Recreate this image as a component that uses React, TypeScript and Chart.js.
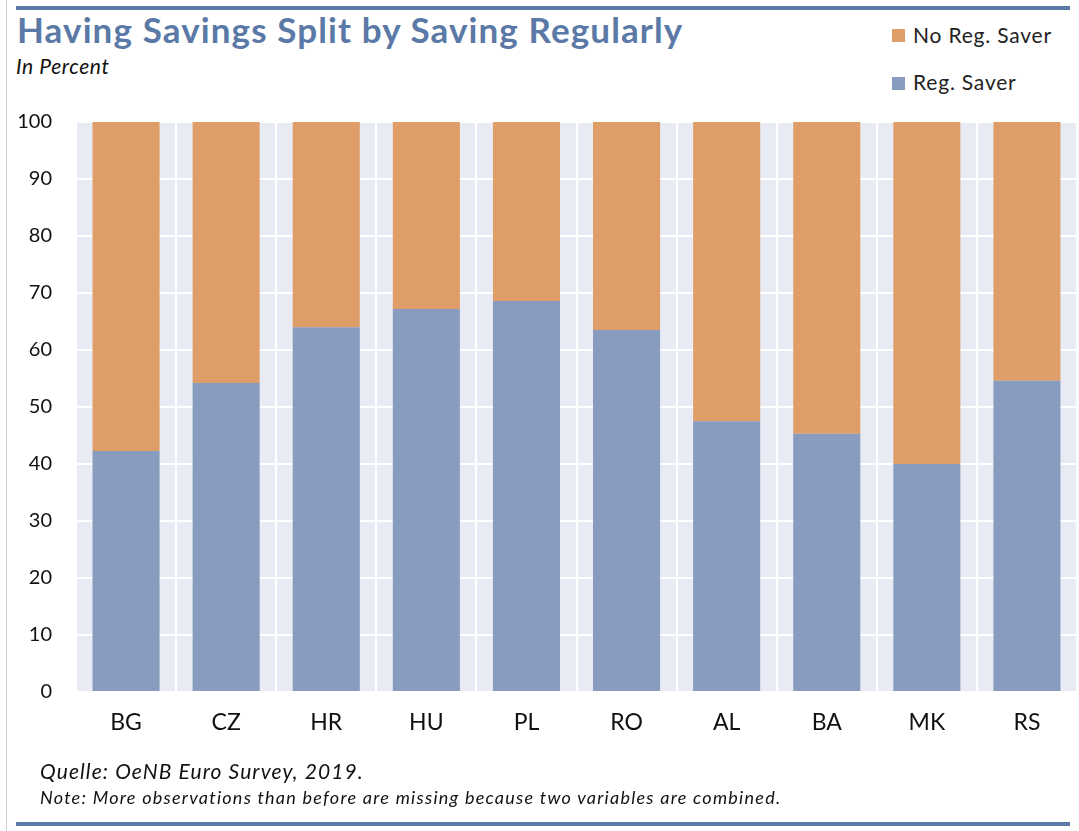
import React, { useEffect, useRef } from "react";
import { Chart, registerables } from "chart.js";

Chart.register(...registerables);

const categories = ["BG", "CZ", "HR", "HU", "PL", "RO", "AL", "BA", "MK", "RS"];
const regSaver = [42.3, 54.2, 64.0, 67.2, 68.6, 63.5, 47.5, 45.3, 40.0, 54.6];
const noRegSaver = [57.7, 45.8, 36.0, 32.8, 31.4, 36.5, 52.5, 54.7, 60.0, 45.4];
const seriesNames = ["Reg. Saver", "No Reg. Saver"];
const yMin = 0;
const yMax = 100;
const yStep = 10;

const ORANGE = "#df9e67";
const BLUE = "#879cbf";
const TITLE_BLUE = "#5b79a6";
const PLOT_BG = "#e8ebf3";
const FONT = "Lato, 'Open Sans', sans-serif";

const plotBg = {
  id: "plotBg",
  beforeDraw(chart: any) {
    const { ctx, chartArea } = chart;
    if (!chartArea) return;
    ctx.save();
    ctx.fillStyle = PLOT_BG;
    ctx.fillRect(chartArea.left, chartArea.top, chartArea.width, chartArea.height);
    ctx.restore();
  },
};

export default function App() {
  const ref = useRef<HTMLCanvasElement | null>(null);

  useEffect(() => {
    const canvas = ref.current;
    if (!canvas) return;
    const chart = new Chart(canvas, {
      type: "bar",
      data: {
        labels: categories,
        datasets: [
          {
            label: seriesNames[0],
            data: regSaver,
            backgroundColor: BLUE,
            barPercentage: 0.67,
            categoryPercentage: 1,
          },
          {
            label: seriesNames[1],
            data: noRegSaver,
            backgroundColor: ORANGE,
            barPercentage: 0.67,
            categoryPercentage: 1,
          },
        ],
      },
      options: {
        animation: false,
        responsive: false,
        devicePixelRatio: 1,
        layout: { padding: { top: 122, left: 0, right: 2, bottom: 99 } },
        plugins: {
          legend: { display: false },
          tooltip: { enabled: false },
          title: { display: false },
        },
        scales: {
          x: {
            stacked: true,
            offset: true,
            grid: { offset: true, color: "#ffffff", lineWidth: 2, drawTicks: false },
            border: { display: false },
            ticks: { color: "#111", font: { family: FONT, size: 23 }, padding: 17 },
            afterFit(scale: any) {
              scale.height = 40;
            },
          },
          y: {
            stacked: true,
            min: yMin,
            max: yMax,
            grid: { color: "#ffffff", lineWidth: 2, drawTicks: false },
            border: { display: false },
            ticks: {
              stepSize: yStep,
              color: "#111",
              font: { family: FONT, size: 20 },
              padding: 24,
            },
            afterFit(scale: any) {
              scale.width = 76;
            },
          },
        },
      },
      plugins: [plotBg],
    });
    return () => chart.destroy();
  }, []);

  const textBase = {
    position: "absolute" as const,
    fontFamily: FONT,
    whiteSpace: "nowrap" as const,
    color: "#111",
  };

  return (
    <div
      style={{
        position: "absolute",
        left: 0,
        top: 0,
        width: 1079,
        height: 831,
        background: "#fff",
        overflow: "hidden",
      }}
    >
      <div style={{ position: "absolute", left: 16, top: 6, width: 1054, height: 4, background: TITLE_BLUE }} />
      <div style={{ position: "absolute", left: 6, top: 0, width: 1, height: 831, background: "#d0d0d0" }} />
      <div
        style={{
          ...textBase,
          left: 17,
          top: 12,
          fontWeight: 700,
          fontSize: 35,
          lineHeight: "35px",
          letterSpacing: "1.1px",
          color: TITLE_BLUE,
        }}
      >
        Having Savings Split by Saving Regularly
      </div>
      <div style={{ ...textBase, left: 16, top: 54, fontStyle: "italic", fontSize: 21, lineHeight: "24px", letterSpacing: "0.6px" }}>
        In Percent
      </div>
      <div style={{ position: "absolute", left: 892, top: 29, width: 13, height: 13, background: ORANGE }} />
      <div style={{ ...textBase, left: 913, top: 23, fontSize: 21, lineHeight: "24px", letterSpacing: "0.8px", color: "#222" }}>
        {seriesNames[1]}
      </div>
      <div style={{ position: "absolute", left: 892, top: 77, width: 13, height: 13, background: BLUE }} />
      <div style={{ ...textBase, left: 913, top: 70, fontSize: 21, lineHeight: "24px", letterSpacing: "0.8px", color: "#222" }}>
        {seriesNames[0]}
      </div>
      <canvas ref={ref} width={1079} height={831} style={{ position: "absolute", left: 0, top: 0, width: 1079, height: 831 }} />
      <div style={{ ...textBase, left: 40, top: 759, fontStyle: "italic", fontSize: 21, lineHeight: "24px", letterSpacing: "1.1px" }}>
        Quelle: OeNB Euro Survey, 2019.
      </div>
      <div style={{ ...textBase, left: 40, top: 786, fontStyle: "italic", fontSize: 18, lineHeight: "22px", letterSpacing: "1.25px" }}>
        Note: More observations than before are missing because two variables are combined.
      </div>
      <div style={{ position: "absolute", left: 16, top: 822, width: 1054, height: 4, background: TITLE_BLUE }} />
    </div>
  );
}
